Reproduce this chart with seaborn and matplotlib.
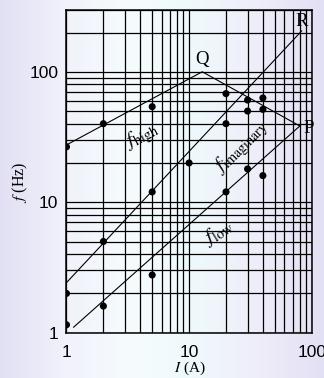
import numpy as np
import pandas as pd
import matplotlib
matplotlib.use('Agg')
import matplotlib.pyplot as plt
from matplotlib.colors import LinearSegmentedColormap
from matplotlib.ticker import FixedLocator, NullFormatter
import seaborn as sns

# measured points (current in A, frequency in Hz)
current_pts = [1, 2, 5, 20, 30, 40, 30, 40, 20, 10, 30, 40, 20, 5, 2, 1, 2, 5, 1]
freq_pts = [26.6, 40, 54, 68, 60.7, 63, 50, 51.5, 40, 20, 18, 16, 12, 12, 5, 2, 1.6, 2.77, 1.15]

# boundary lines
high_I = [1, 12.8, 80]
high_f = [27.5, 100, 38.4]
imag_I = [1, 83]
imag_f = [2.42, 206]
low_I = [1.14, 80]
low_f = [1.1, 38.4]

x_ticks = [1, 10, 100]
y_ticks = [1, 10, 100]

sns.set_style('white')
plt.rcParams['font.family'] = ['Liberation Sans', 'DejaVu Sans']
plt.rcParams['mathtext.fontset'] = 'stix'
plt.rcParams['text.color'] = 'black'
plt.rcParams['axes.labelcolor'] = 'black'
plt.rcParams['xtick.color'] = 'black'
plt.rcParams['ytick.color'] = 'black'

fig = plt.figure(figsize=(3.24, 3.78), dpi=100)

# faint washed-out background like the scanned figure
bg = fig.add_axes([0, 0, 1, 1], zorder=-5)
cmap = LinearSegmentedColormap.from_list(
    'wash', ['#e2e0f3', '#f1f2fb', '#f6fcfe', '#eef9fc', '#efedf9', '#e2e0f4'])
bg.imshow(np.linspace(0, 1, 256)[None, :], aspect='auto', cmap=cmap,
          extent=[0, 1, 0, 1])
bg.axis('off')

ax = fig.add_axes([0.2052, 0.1198, 0.7568, 0.855])
ax.set_facecolor('none')

pts = pd.DataFrame({'I': current_pts, 'f': freq_pts})
lines = pd.DataFrame({
    'I': high_I + imag_I + low_I,
    'f': high_f + imag_f + low_f,
    'curve': ['high'] * 3 + ['imag'] * 2 + ['low'] * 2,
})

sns.lineplot(data=lines, x='I', y='f', units='curve', estimator=None,
             sort=False, color='black', lw=0.8, ax=ax, zorder=3)
sns.scatterplot(data=pts, x='I', y='f', color='black', s=26,
                edgecolor='none', ax=ax, zorder=4)

ax.set_xscale('log')
ax.set_yscale('log')
ax.set_xlim(1, 100)
ax.set_ylim(1, 300)

ax.xaxis.set_major_locator(FixedLocator(x_ticks))
ax.yaxis.set_major_locator(FixedLocator(y_ticks))
ax.set_xticklabels([str(v) for v in x_ticks])
ax.set_yticklabels([str(v) for v in y_ticks])
ax.xaxis.set_minor_locator(FixedLocator([v * d for d in (1, 10) for v in range(2, 10)]))
ax.yaxis.set_minor_locator(FixedLocator([v * d for d in (1, 10, 100) for v in range(2, 10)]))
ax.xaxis.set_minor_formatter(NullFormatter())
ax.yaxis.set_minor_formatter(NullFormatter())
ax.tick_params(which='both', length=0)
ax.tick_params(axis='x', labelsize=12.5, pad=9)
ax.tick_params(axis='y', labelsize=12.5, pad=6)

ax.grid(True, which='both', color='black', lw=0.9)
for s in ax.spines.values():
    s.set_color('black')
    s.set_linewidth(1.1)

serif = ['Liberation Serif', 'DejaVu Serif']
ax.set_xlabel(r'$I$ (A)', fontsize=11, family=serif)
ax.set_ylabel(r'$f$ (Hz)', fontsize=11.5, family=serif)
ax.xaxis.label.set_va('center')
ax.yaxis.label.set_va('center')
ax.xaxis.set_label_coords(0.504, -0.109)
ax.yaxis.set_label_coords(-0.186, 0.466)

# corner labels
ax.text(12.8, 124, 'Q', fontsize=13.5, family=serif, ha='center', va='center')
ax.text(82.9, 242, 'R', fontsize=13.5, family=serif, ha='center', va='center')
ax.text(85, 37, 'P', fontsize=13.5, family=serif, ha='left', va='center')

# curve labels
ax.text(4.1, 32, r'$f_{\rm high}$', fontsize=14.5, ha='center', va='center', rotation=28)
ax.text(26.5, 26.5, r'$f_{\rm imaginary}$', fontsize=14.5, ha='center', va='center', rotation=45)
ax.text(17.2, 5.9, r'$f_{\rm low}$', fontsize=14.5, ha='center', va='center', rotation=32)

fig.savefig('out.png', dpi=100)
